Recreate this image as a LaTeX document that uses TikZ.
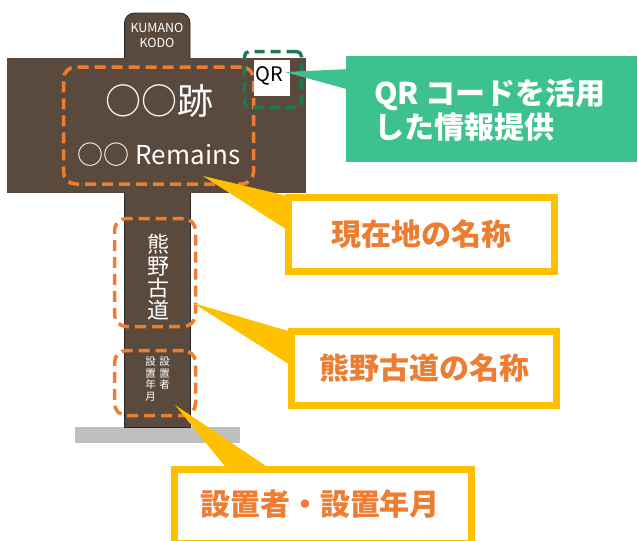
\documentclass[tikz,border=0pt]{standalone}
\usepackage{fontspec}
\setmainfont{Noto Sans CJK JP}
\definecolor{brownc}{HTML}{5A4A3E}
\definecolor{orangec}{HTML}{ED7D31}
\definecolor{yellowc}{HTML}{FFC000}
\definecolor{greendash}{HTML}{1E7A55}
\definecolor{greenbox}{HTML}{3DC18F}
\definecolor{groundc}{HTML}{BFBFBF}
\tikzset{
  odash/.style={draw=orangec, line width=3.5pt, dash pattern=on 11pt off 6pt, rounded corners=12pt},
  gdash/.style={draw=greendash, line width=3.5pt, dash pattern=on 10pt off 6pt, rounded corners=5pt},
  callout/.style={draw=yellowc, fill=white, line width=7pt, text=orangec, font=\bfseries\fontsize{30}{30}\selectfont, inner sep=0pt},
  wedgey/.style={fill=yellowc},
  signtxt/.style={text=white, inner sep=0pt, align=center},
}
\begin{document}
\begin{tikzpicture}[x=1pt,y=-1pt]
\useasboundingbox (0,0) rectangle (638,541);
% ground
\fill[groundc] (75,427) rectangle (240,443);
% post and top
\draw[fill=brownc, draw=black!85, line width=0.8pt] (124.5,190) rectangle (190,427.5);
\draw[fill=brownc, draw=black!85, line width=0.8pt, rounded corners=10pt] (124.5,70) -- (124.5,13) -- (190,13) -- (190,70);
\node[signtxt, font=\fontsize{12.5}{15}\selectfont] (kumano) at (157,35) {KUMANO\\KODO};
% board
\fill[brownc] (7,58) rectangle (306,193);
\node[signtxt, font=\fontsize{36}{36}\selectfont] (title) at (159,101) {○○跡};
\node[signtxt, font=\fontsize{26}{26}\selectfont] (remains) at (159,155) {○○ Remains};
\node[odash, minimum width=190pt, minimum height=117pt] (titlebox) at (158.5,125.5) {};
% QR
\node[fill=white, minimum width=36pt, minimum height=36pt, inner sep=0pt] (qr) at (272,78) {};
\node[inner sep=0pt, font=\fontsize{20}{20}\selectfont] (qrt) at (269,76) {QR};
\node[gdash, minimum width=57pt, minimum height=56pt] (qrbox) at (273,79.5) {};
% post texts
\node[signtxt, font=\fontsize{22}{22}\selectfont] (kodo) at (158,277) {熊\\野\\古\\道};
\node[odash, minimum width=81pt, minimum height=108pt] (kodobox) at (155,272.5) {};
\node[signtxt, font=\fontsize{10.5}{11.5}\selectfont, anchor=north] (setti1) at (164.5,357) {設\\置\\者};
\node[signtxt, font=\fontsize{10.5}{11.5}\selectfont, anchor=north] (setti2) at (150.5,357) {設\\置\\年\\月};
\node[odash, minimum width=81pt, minimum height=65pt] (settibox) at (155,383) {};
% green callout
\coordinate (gtip) at (285,72);
\fill[greenbox] (gtip) -- (350,69) -- (350,90) -- cycle;
\node[fill=greenbox, minimum width=291pt, minimum height=106pt, inner sep=0pt] (gbox) at (491.5,109) {};
\node[text=white, font=\bfseries\fontsize{30}{34}\selectfont, align=left, anchor=west, inner sep=0pt] (gtext) at (374,110) {QR コードを活用\\した情報提供};
% yellow callouts
\coordinate (t1) at (203,176);
\fill[wedgey] (t1) -- (292,197) -- (292,233) -- cycle;
\node[callout, minimum width=266pt, minimum height=74pt] (c1) at (421.5,234.5) {現在地の名称};
\coordinate (t2) at (193,303);
\fill[wedgey] (t2) -- (295,333) -- (295,368) -- cycle;
\node[callout, minimum width=265pt, minimum height=74pt] (c2) at (424,368.5) {熊野古道の名称};
\coordinate (t3) at (175,405);
\fill[wedgey] (t3) -- (228,470) -- (272,470) -- cycle;
\node[callout, minimum width=297pt, minimum height=74pt] (c3) at (322.5,506.5) {};
\node[text=orangec, font=\bfseries\fontsize{30}{30}\selectfont, inner sep=0pt] (c3t) at (320,504) {設置者・設置年月};
\end{tikzpicture}
\end{document}
